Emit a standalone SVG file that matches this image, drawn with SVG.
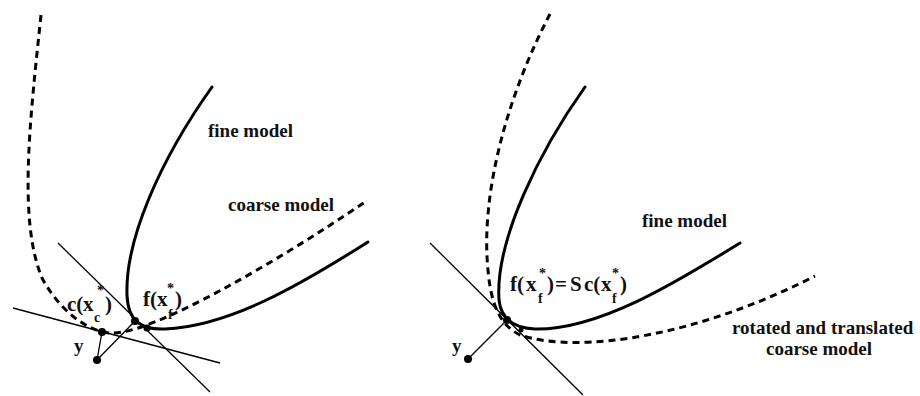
<svg xmlns="http://www.w3.org/2000/svg" width="920" height="396" viewBox="0 0 920 396">
<style>
.bg{fill:#fff}
.fine{fill:none;stroke:#000;stroke-width:3;stroke-linecap:round}
.coarse{fill:none;stroke:#000;stroke-width:3;stroke-dasharray:7 5}
.thin{fill:none;stroke:#000;stroke-width:1.3}
.dot{fill:#000}
text{font-family:"Liberation Serif","Times New Roman",serif;font-weight:bold;font-size:19px;fill:#111}
.math{font-size:21px}
.sub{font-size:14px}
</style>
<rect class="bg" width="920" height="396"/>
<g id="left-panel">
  <g id="connectors-left">
    <line class="thin" x1="58" y1="243" x2="210" y2="392"/>
    <line class="thin" x1="13" y1="308" x2="220" y2="363"/>
    <line class="thin" x1="97" y1="360" x2="102" y2="332"/>
    <line class="thin" x1="97" y1="360" x2="135" y2="321"/>
  </g>
  <g id="coarse-left">
    <path class="coarse" d="M41,15 C30,120 18,220 42,278 C58,308 85,331 110,333 C150,336 280,260 365,202"/>
  </g>
  <g id="fine-left">
    <path class="fine" d="M212,87 C160,160 125,240 127,295 C128,322 142,330 165,329 C230,326 300,285 368,242"/>
  </g>
  <g id="points-left">
    <circle class="dot" cx="135" cy="321" r="4"/>
    <circle class="dot" cx="147" cy="328" r="3.5"/>
    <circle class="dot" cx="102" cy="332" r="4"/>
    <circle class="dot" cx="97" cy="360" r="4"/>
  </g>
  <g id="labels-left">
    <text x="208" y="137">fine model</text>
    <text x="228" y="211">coarse model</text>
    <text x="74" y="352">y</text>
    <text class="math" y="311"><tspan x="67">c(</tspan><tspan x="83">x</tspan><tspan class="sub" x="94" y="322">c</tspan><tspan class="sub" x="97" y="295">*</tspan><tspan x="105" y="311">)</tspan></text>
    <text class="math" y="306"><tspan x="143">f(</tspan><tspan x="157">x</tspan><tspan class="sub" x="168" y="319">f</tspan><tspan class="sub" x="167" y="293">*</tspan><tspan x="175" y="306">)</tspan></text>
  </g>
</g>
<g id="right-panel">
  <g id="connectors-right">
    <line class="thin" x1="430" y1="243" x2="583" y2="395"/>
    <line class="thin" x1="468" y1="359" x2="507" y2="320"/>
  </g>
  <g id="coarse-right">
    <path class="coarse" d="M550,14 C510,90 480,190 488,270 C491,305 500,325 520,335 C580,355 700,335 815,276"/>
  </g>
  <g id="fine-right">
    <path class="fine" d="M585,87 C540,150 495,240 499,300 C501,318 512,328 535,329 C600,330 680,280 740,243"/>
  </g>
  <g id="points-right">
    <circle class="dot" cx="507" cy="320" r="4"/>
    <circle class="dot" cx="521" cy="330" r="2.5"/>
    <circle class="dot" cx="468" cy="359" r="4"/>
  </g>
  <g id="labels-right">
    <text x="642" y="227">fine model</text>
    <text x="732" y="334">rotated and translated</text>
    <text x="766" y="355">coarse model</text>
    <text x="452" y="352">y</text>
    <text class="math" y="291"><tspan x="510">f(</tspan><tspan x="526">x</tspan><tspan class="sub" x="538" y="303">f</tspan><tspan class="sub" x="539" y="278">*</tspan><tspan x="547" y="291">)</tspan><tspan x="555">=</tspan><tspan x="570">S</tspan><tspan x="584">c(</tspan><tspan x="601">x</tspan><tspan class="sub" x="612" y="303">f</tspan><tspan class="sub" x="612" y="278">*</tspan><tspan x="620" y="291">)</tspan></text>
  </g>
</g>
</svg>
